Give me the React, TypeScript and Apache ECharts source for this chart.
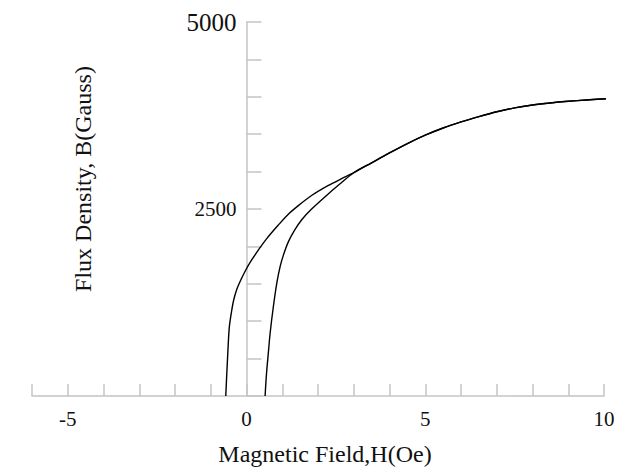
import React, { useEffect, useRef } from "react";
import * as echarts from "echarts";

// Descending branch of the B–H loop (from saturation back to the negative coercive field)
const descendingH = [10.2, 9.5, 9.0, 8.5, 8.0, 7.5, 7.0, 6.5, 6.0, 5.5, 5.0, 4.5, 4.0, 3.5, 3.0, 2.66, 2.29, 1.82, 1.45, 1.17, 0.89, 0.56, 0.33, 0.14, -0.02, -0.16, -0.28, -0.36, -0.42, -0.48, -0.51, -0.56, -0.58];
const descendingB = [3978, 3958, 3940, 3918, 3890, 3852, 3800, 3735, 3664, 3583, 3487, 3375, 3250, 3118, 2985, 2905, 2815, 2680, 2545, 2430, 2285, 2100, 1950, 1815, 1685, 1550, 1415, 1280, 1125, 925, 700, 210, 0];

// Ascending branch (from the positive coercive field up to saturation)
const ascendingH = [0.52, 0.56, 0.61, 0.66, 0.75, 0.85, 0.94, 1.03, 1.17, 1.35, 1.55, 1.8, 2.2, 2.6, 3.0, 3.5, 4.0, 4.5, 5.0, 5.5, 6.0, 6.5, 7.0, 7.5, 8.0, 8.5, 9.0, 9.5, 10.2];
const ascendingB = [0, 300, 570, 835, 1190, 1515, 1730, 1880, 2060, 2220, 2360, 2490, 2665, 2830, 2985, 3118, 3250, 3375, 3487, 3583, 3664, 3735, 3800, 3852, 3890, 3918, 3940, 3958, 3978];

const xTickLabels = [-5, 0, 5, 10];
const yTickLabels = [2500, 5000];

const xName = "Magnetic Field,H(Oe)";
const yName = "Flux Density, B(Gauss)";

const X_MIN = -6;
const X_MAX = 10;
const GRID_LEFT = 32;
const GRID_RIGHT = 32;
const CHART_W = 636;

const FONT = "'Liberation Serif', 'Times New Roman', serif";
const AXIS_GREY = "#c4c4c4";

const pairs = (xs: number[], ys: number[]) => xs.map((x, i) => [x, ys[i]]);

export default function App() {
  const ref = useRef<HTMLDivElement>(null);

  useEffect(() => {
    if (!ref.current) return;
    const chart = echarts.init(ref.current, null, { renderer: "svg" });
    // the vertical axis sits at H = 0, so shift it right from the grid's left edge
    const plotW = CHART_W - GRID_LEFT - GRID_RIGHT;
    const yAxisShift = ((0 - X_MIN) / (X_MAX - X_MIN)) * plotW;
    chart.setOption({
      animation: false,
      backgroundColor: "#ffffff",
      grid: {
        left: GRID_LEFT,
        right: GRID_RIGHT,
        top: 22,
        bottom: 72,
        containLabel: false,
        outerBoundsMode: "none",
      },
      xAxis: {
        type: "value",
        min: X_MIN,
        max: X_MAX,
        interval: 1,
        splitLine: { show: false },
        axisLine: { show: true, onZero: true, lineStyle: { color: AXIS_GREY, width: 1.5 } },
        axisTick: { show: true, inside: true, length: 12, lineStyle: { color: AXIS_GREY, width: 1.5 } },
        axisLabel: {
          show: true,
          margin: 12,
          fontFamily: FONT,
          fontSize: 21,
          color: "#111",
          formatter: (v: number) => (xTickLabels.includes(v) ? String(v) : ""),
        },
      },
      yAxis: {
        type: "value",
        min: 0,
        max: 5000,
        interval: 500,
        offset: -yAxisShift,
        splitLine: { show: false },
        axisLine: { show: true, onZero: false, lineStyle: { color: AXIS_GREY, width: 1.5 } },
        axisTick: { show: true, inside: true, length: 15, lineStyle: { color: AXIS_GREY, width: 1.5 } },
        axisLabel: {
          show: true,
          margin: 10,
          color: "#111",
          formatter: (v: number) =>
            yTickLabels.includes(v) ? (v === 5000 ? `{big|${v}}` : `{small|${v}}`) : "",
          rich: {
            big: { fontFamily: FONT, fontSize: 25, color: "#111" },
            small: { fontFamily: FONT, fontSize: 21, color: "#111" },
          },
        },
      },
      graphic: [
        {
          type: "text",
          x: 325,
          y: 454,
          style: {
            text: xName,
            fontFamily: FONT,
            fontSize: 24,
            fill: "#111",
            align: "center",
            verticalAlign: "middle",
          },
        },
        {
          type: "text",
          x: 83,
          y: 179,
          rotation: Math.PI / 2,
          style: {
            text: yName,
            fontFamily: FONT,
            fontSize: 24,
            fill: "#111",
            align: "center",
            verticalAlign: "middle",
          },
        },
      ],
      series: [
        {
          type: "line",
          data: pairs(descendingH, descendingB),
          showSymbol: false,
          smooth: 0.3,
          clip: false,
          lineStyle: { color: "#000", width: 1.4 },
        },
        {
          type: "line",
          data: pairs(ascendingH, ascendingB),
          showSymbol: false,
          smooth: 0.3,
          clip: false,
          lineStyle: { color: "#000", width: 1.4 },
        },
      ],
    });
    return () => chart.dispose();
  }, []);

  return (
    <div
      ref={ref}
      style={{ position: "fixed", left: 0, top: 0, width: 636, height: 468, background: "#fff" }}
    />
  );
}
